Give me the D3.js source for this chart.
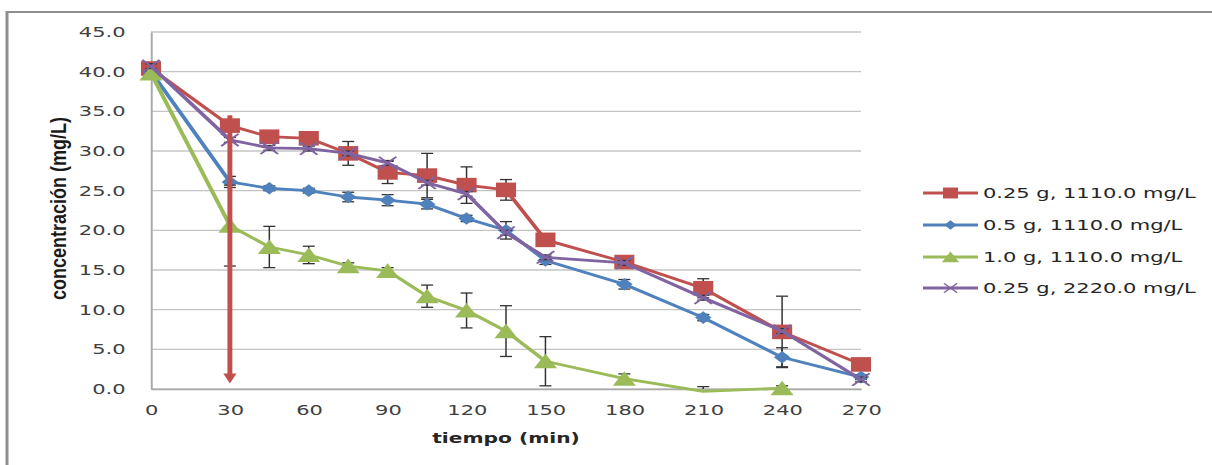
<!DOCTYPE html>
<html><head><meta charset="utf-8">
<script src="https://cdn.jsdelivr.net/npm/d3@7"></script>
<style>
html,body{margin:0;padding:0;background:#fff;}
svg{display:block;}
</style></head>
<body>
<svg id="chart" width="1212" height="465"></svg>
<script>
// ---- data ----
const times = [0,30,45,60,75,90,105,120,135,150,180,210,240,270];
const greenTimes = [0,30,45,60,75,90,105,120,135,150,180,210,240];
const seriesNames = ["0.25 g, 1110.0 mg/L","0.5 g, 1110.0 mg/L","1.0 g, 1110.0 mg/L","0.25 g, 2220.0 mg/L"];
const redVals    = [40.4,33.2,31.8,31.6,29.7,27.3,26.9,25.7,25.1,18.8,16.0,12.7,7.2,3.1];
const redErr     = [0.3,0.5,0.4,0.4,1.5,1.4,2.8,2.3,1.3,0.3,0.3,1.2,4.5,0.3];
const blueVals   = [40.0,26.1,25.3,25.0,24.2,23.8,23.3,21.5,20.0,16.2,13.2,9.0,4.0,1.5];
const blueErr    = [0.3,0.7,0.3,0.3,0.6,0.7,0.6,0.4,1.1,0.5,0.6,0.4,1.2,0.3];
const greenVals  = [39.8,20.6,17.9,16.9,15.5,14.9,11.7,9.9,7.3,3.5,1.3,-0.3,0.1];
const greenErr   = [0.3,5.1,2.6,1.1,0.4,0.4,1.4,2.2,3.2,3.1,0.6,0.6,0.3];
const purpleVals = [40.7,31.4,30.4,30.3,29.7,28.5,26.0,24.6,19.7,16.6,15.9,11.5,7.3,1.2];
const purpleErr  = [0.3,0.3,0.3,0.3,0.3,0.3,0.3,0.3,0.3,0.3,0.3,0.3,0.3,0.3];
const xTicks = [0,30,60,90,120,150,180,210,240,270];
const yTicks = [0,5,10,15,20,25,30,35,40,45];
const arrowTime = 30, arrowFrom = 34.5, arrowTo = 0.7;

const colors = ["#C0504D","#4F81BD","#9BBB59","#8064A2"];
const markers = ["square","diamond","triangle","x"];
const allTimes = [times,times,greenTimes,times];
const allVals = [redVals,blueVals,greenVals,purpleVals];
const allErr = [redErr,blueErr,greenErr,purpleErr];

// ---- layout (drawn in a narrower space, stretched horizontally like the reference) ----
const S = 1.5;
const W = 1212 / S, H = 465;
const svg = d3.select("#chart")
  .attr("viewBox", `0 0 ${W} ${H}`)
  .attr("preserveAspectRatio", "none");

const x = d3.scaleLinear().domain([0,270]).range([151/S, 861/S]);
const y = d3.scaleLinear().domain([0,45]).range([389, 32]);

// outer frame
svg.append("path").attr("d", `M${7/S},${H} L${7/S},12 L${W},12`)
  .attr("fill","none").attr("stroke","#8f8f8f").attr("stroke-width",2);

// gridlines
svg.append("g").selectAll("line").data(yTicks).join("line")
  .attr("x1", x(0)).attr("x2", x(270))
  .attr("y1", d=>y(d)).attr("y2", d=>y(d))
  .attr("stroke", "#c4c4c4").attr("stroke-width", 1.3);

// y axis
const yAxis = svg.append("g").attr("transform", `translate(${x(0)},0)`)
  .call(d3.axisLeft(y).tickValues(yTicks).tickFormat(d3.format(".1f")).tickSize(0).tickPadding(17));
yAxis.select(".domain").attr("stroke","#a9a9a9").attr("stroke-width",1.3);
yAxis.selectAll("text").attr("font-family","DejaVu Sans, sans-serif").attr("font-size",14).attr("fill","#404040");

// x axis
const xAxis = svg.append("g").attr("transform", `translate(0,${y(0)})`)
  .call(d3.axisBottom(x).tickValues(xTicks).tickFormat(d3.format("d")).tickSize(0).tickPadding(16));
xAxis.select(".domain").attr("stroke","#a9a9a9").attr("stroke-width",1.3);
xAxis.selectAll("text").attr("font-family","DejaVu Sans, sans-serif").attr("font-size",14).attr("fill","#404040");

// axis titles
svg.append("text").attr("x", 506/S).attr("y", 443)
  .attr("text-anchor","middle").attr("font-family","DejaVu Sans, sans-serif")
  .attr("font-weight","bold").attr("font-size",13.5).attr("fill","#262626")
  .text("tiempo (min)");
svg.append("text")
  .attr("transform", `translate(${39},${208.5}) rotate(-90)`)
  .attr("text-anchor","middle").attr("dominant-baseline","central")
  .attr("font-family","Liberation Sans, Arial, sans-serif")
  .attr("font-weight","bold").attr("font-size",14.5).attr("fill","#1a1a1a")
  .attr("textLength",183).attr("lengthAdjust","spacingAndGlyphs")
  .text("concentración (mg/L)");

// marker path generator
function markerPath(kind, k) {
  const p = d3.path();
  if (kind === "square") { const a=6.7*k, b=7.3*k; p.rect(-a,-b,2*a,2*b); }
  else if (kind === "diamond") { const a=5.5*k, b=6.3*k; p.moveTo(0,-b); p.lineTo(a,0); p.lineTo(0,b); p.lineTo(-a,0); p.closePath(); }
  else if (kind === "triangle") { const a=7.7*k, b=7.5*k; p.moveTo(0,-b); p.lineTo(a,b*0.95); p.lineTo(-a,b*0.95); p.closePath(); }
  else { const a=5.8*k, b=6.2*k; p.moveTo(-a,-b); p.lineTo(a,b); p.moveTo(a,-b); p.lineTo(-a,b); }
  return p.toString();
}

const line = d3.line().x(d=>x(d.t)).y(d=>y(d.v));

allVals.forEach((vals, si) => {
  const pts = allTimes[si].map((t,i)=>({t, v:vals[i], e:allErr[si][i]}));
  const g = svg.append("g");
  // error bars
  const eb = g.append("g").selectAll("g").data(pts.filter(d=>d.e>0)).join("g");
  eb.append("line").attr("x1",d=>x(d.t)).attr("x2",d=>x(d.t))
    .attr("y1",d=>y(d.v+d.e)).attr("y2",d=>y(Math.max(0,d.v-d.e)))
    .attr("stroke","#333").attr("stroke-width",1);
  eb.append("line").attr("x1",d=>x(d.t)-4).attr("x2",d=>x(d.t)+4)
    .attr("y1",d=>y(d.v+d.e)).attr("y2",d=>y(d.v+d.e))
    .attr("stroke","#333").attr("stroke-width",1.3);
  eb.filter(d=>d.v-d.e>=0).append("line").attr("x1",d=>x(d.t)-4).attr("x2",d=>x(d.t)+4)
    .attr("y1",d=>y(d.v-d.e)).attr("y2",d=>y(d.v-d.e))
    .attr("stroke","#333").attr("stroke-width",1.3);
  // line
  g.append("path").datum(pts).attr("d", line)
    .attr("fill","none").attr("stroke",colors[si]).attr("stroke-width",2.8)
    .attr("stroke-linejoin","round");
  // markers (points below the axis minimum are not drawn, as in the source)
  g.append("g").selectAll("path").data(pts.filter(d=>d.v>=0)).join("path")
    .attr("transform", d=>`translate(${x(d.t)},${y(d.v)})`)
    .attr("d", markerPath(markers[si],1))
    .attr("fill", markers[si]==="x" ? "none" : colors[si])
    .attr("stroke", colors[si]).attr("stroke-width", markers[si]==="x" ? 1.6 : 0);
});

// red arrow annotation
const ax = x(arrowTime), ay1 = y(arrowFrom), ay2 = y(arrowTo);
svg.append("line").attr("x1",ax).attr("x2",ax).attr("y1",ay1).attr("y2",ay2-9)
  .attr("stroke","#C0504D").attr("stroke-width",3.3);
svg.append("path").attr("d", `M${ax-4.4},${ay2-10} L${ax+4.4},${ay2-10} L${ax},${ay2} Z`)
  .attr("fill","#C0504D");

// legend
const legendRows = [193,225,257,288];
const lg = svg.append("g");
seriesNames.forEach((name, i) => {
  const row = lg.append("g").attr("transform", `translate(0,${legendRows[i]})`);
  row.append("line").attr("x1",923/S).attr("x2",978/S).attr("y1",0).attr("y2",0)
    .attr("stroke",colors[i]).attr("stroke-width",2.8);
  row.append("path").attr("transform", `translate(${950.5/S},0)`)
    .attr("d", markerPath(markers[i], 0.75))
    .attr("fill", markers[i]==="x" ? "none" : colors[i])
    .attr("stroke", colors[i]).attr("stroke-width", markers[i]==="x" ? 1.2 : 0);
  row.append("text").attr("x",983/S).attr("y",0).attr("dy","0.36em")
    .attr("font-family","DejaVu Sans, sans-serif").attr("font-size",14).attr("fill","#262626")
    .text(name);
});
</script>
</body></html>
